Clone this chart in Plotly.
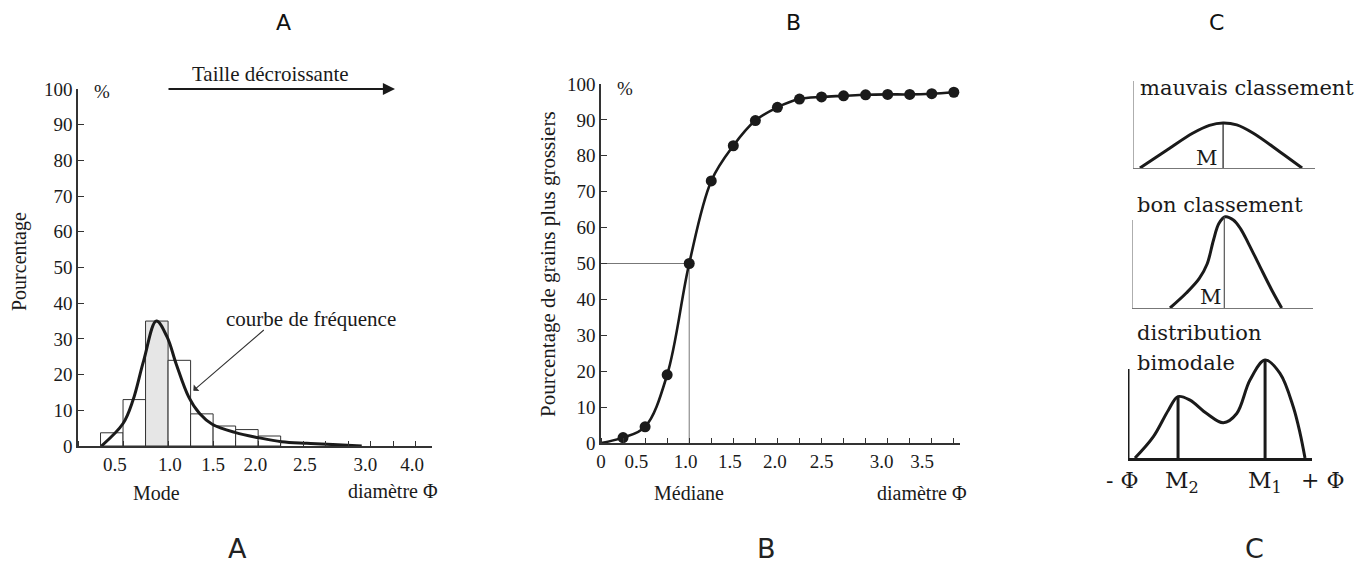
import plotly.graph_objects as go

# The page body adds an 8px margin; the figure is sized so that it fills the
# remaining viewport exactly, and positions below are in viewport pixels.
OFF = 8
W, H = 1369 - OFF, 566 - OFF
def fx(px): return (px - OFF) / W
def fy(py): return 1 - (py - OFF) / H

SERIF = "Liberation Serif"
SERIF_C = "DejaVu Serif"
SANS = "DejaVu Sans"
INK = "#1a1a1a"

# ---------------- Panel A : histogram + frequency curve ----------------
bin_centers_A = [0.375, 0.625, 0.875, 1.125, 1.375, 1.625, 1.875, 2.125]
bin_pct_A = [3.7, 13.0, 35.0, 24.0, 9.0, 5.6, 4.6, 2.8]
modal_bin_A = 2
curve_phi_A = [0.26, 0.5, 0.61, 0.73, 0.87, 0.99, 1.09, 1.23, 1.35, 1.49, 1.75, 2.0, 2.26, 2.54, 2.83, 3.15]
curve_pct_A = [0.0, 6.3, 12.8, 24.0, 35.0, 30.5, 23.0, 13.7, 9.1, 6.1, 3.75, 2.35, 1.2, 0.75, 0.4, 0.0]
mode_A = 0.87
tick_pos_A = [0.41, 1.02, 1.5, 1.97, 2.52, 3.19, 3.71]
tick_lbl_A = ["0.5", "1.0", "1.5", "2.0", "2.5", "3.0", "4.0"]
y_ticks = [0, 10, 20, 30, 40, 50, 60, 70, 80, 90, 100]

# ---------------- Panel B : cumulative curve ----------------
cum_phi_B = [0.25, 0.5, 0.75, 1.0, 1.25, 1.5, 1.75, 2.0, 2.25, 2.5, 2.75, 3.0, 3.25, 3.5, 3.75, 4.0]
cum_pct_B = [1.5, 4.5, 19.0, 50.0, 73.0, 82.8, 89.8, 93.5, 95.8, 96.4, 96.7, 97.0, 97.1, 97.1, 97.3, 97.7]
median_B = 1.0
tick_pos_B = [0.0, 0.4, 0.96, 1.46, 1.97, 2.5, 3.18, 3.64]
tick_lbl_B = ["0", "0.5", "1.0", "1.5", "2.0", "2.5", "3.0", "3.5"]

# ---------------- Panel C : sorting sketches ----------------
poor_x = [0.38, 1.87, 3.3, 4.2, 4.95, 5.7, 6.59, 8.08, 9.29]
poor_y = [0.0, 2.07, 4.02, 4.9, 5.17, 4.95, 4.02, 1.84, 0.0]
poor_mode = 4.95

good_x = [2.1, 3.0, 3.7, 4.15, 4.5, 4.8, 5.15, 5.6, 6.0, 6.43, 7.07, 7.72, 8.27]
good_y = [0.0, 1.7, 3.3, 5.0, 7.7, 9.6, 10.37, 10.0, 9.0, 7.35, 4.7, 2.05, 0.0]
good_mode = 5.1

bi_x = [0.38, 1.38, 2.2, 2.72, 3.37, 4.28, 5.18, 5.91, 6.63, 7.45, 8.26, 8.98, 9.35, 9.62]
bi_y = [0.0, 2.4, 5.4, 6.9, 6.5, 5.0, 3.96, 5.0, 8.76, 11.0, 9.51, 5.76, 2.8, 0.0]
bi_modes = [2.72, 7.45]
bi_peaks = [6.9, 11.0]

fig = go.Figure()

# Panel A traces
bar_colors = ["#e6e6e6" if i == modal_bin_A else "white" for i in range(len(bin_pct_A))]
fig.add_trace(go.Bar(x=bin_centers_A, y=bin_pct_A, width=0.25,
                     marker=dict(color=bar_colors, line=dict(color="#333", width=1)),
                     xaxis="x", yaxis="y", showlegend=False))
fig.add_trace(go.Scatter(x=curve_phi_A, y=curve_pct_A, mode="lines",
                         line=dict(color=INK, width=3, shape="spline", smoothing=1.0),
                         xaxis="x", yaxis="y", showlegend=False))

# Panel B traces
fig.add_trace(go.Scatter(x=[0, median_B, median_B], y=[50, 50, 0], mode="lines",
                         line=dict(color="#777", width=1),
                         xaxis="x2", yaxis="y2", showlegend=False))
fig.add_trace(go.Scatter(x=[0] + cum_phi_B, y=[0] + cum_pct_B, mode="lines",
                         line=dict(color=INK, width=2.6, shape="spline", smoothing=1.0),
                         xaxis="x2", yaxis="y2", showlegend=False))
fig.add_trace(go.Scatter(x=cum_phi_B, y=cum_pct_B, mode="markers",
                         marker=dict(color=INK, size=11),
                         xaxis="x2", yaxis="y2", showlegend=False))

# Panel C traces
fig.add_trace(go.Scatter(x=poor_x, y=poor_y, mode="lines",
                         line=dict(color=INK, width=3, shape="spline"),
                         xaxis="x3", yaxis="y3", showlegend=False))
fig.add_trace(go.Scatter(x=[poor_mode, poor_mode], y=[0, max(poor_y)], mode="lines",
                         line=dict(color=INK, width=1.2),
                         xaxis="x3", yaxis="y3", showlegend=False))
fig.add_trace(go.Scatter(x=good_x, y=good_y, mode="lines",
                         line=dict(color=INK, width=3, shape="spline"),
                         xaxis="x4", yaxis="y4", showlegend=False))
fig.add_trace(go.Scatter(x=[good_mode, good_mode], y=[0, max(good_y)], mode="lines",
                         line=dict(color="#555", width=1.2),
                         xaxis="x4", yaxis="y4", showlegend=False))
fig.add_trace(go.Scatter(x=bi_x, y=bi_y, mode="lines",
                         line=dict(color=INK, width=3, shape="spline"),
                         xaxis="x5", yaxis="y5", showlegend=False))
for m, p in zip(bi_modes, bi_peaks):
    fig.add_trace(go.Scatter(x=[m, m], y=[0, p], mode="lines",
                             line=dict(color=INK, width=3),
                             xaxis="x5", yaxis="y5", showlegend=False))

tickfont = dict(family=SERIF, size=19, color=INK)

def hidden_axis(**kw):
    d = dict(visible=False, showgrid=False, zeroline=False, fixedrange=True, automargin=False)
    d.update(kw)
    return d

layout = dict(
    template="none",
    width=W, height=H, autosize=False,
    margin=dict(l=0, r=0, t=0, b=0, pad=0, autoexpand=False),
    paper_bgcolor="white", plot_bgcolor="rgba(0,0,0,0)",
    barmode="overlay", showlegend=False,
    # Panel A
    xaxis=dict(domain=[fx(78), fx(432)], range=[0, 3.93], anchor="y", automargin=False,
               showline=True, linecolor="#333", linewidth=1.5, showgrid=False, zeroline=False,
               tickmode="array", tickvals=tick_pos_A, ticktext=tick_lbl_A, ticks="",
               tickfont=tickfont,
               minor=dict(tickmode="linear", tick0=0, dtick=0.25, ticks="inside", ticklen=5,
                          tickcolor="#333", showgrid=False)),
    yaxis=dict(domain=[fy(446), fy(89)], range=[0, 100], anchor="x", automargin=False,
               showline=True, linecolor="#333", linewidth=1.5, showgrid=False, zeroline=False,
               tickmode="array", tickvals=y_ticks, ticks="inside", ticklen=6, tickcolor="#333",
               tickfont=tickfont),
    # Panel B
    xaxis2=dict(domain=[fx(601), fx(960)], range=[0, 4.07], anchor="y2", automargin=False,
                showline=True, linecolor="#333", linewidth=1.5, showgrid=False, zeroline=False,
                tickmode="array", tickvals=tick_pos_B, ticktext=tick_lbl_B, ticks="",
                tickfont=tickfont,
                minor=dict(tickmode="linear", tick0=0, dtick=0.25, ticks="inside", ticklen=5,
                           tickcolor="#333", showgrid=False)),
    yaxis2=dict(domain=[fy(443), fy(84)], range=[0, 100], anchor="x2", automargin=False,
                showline=True, linecolor="#333", linewidth=1.5, showgrid=False, zeroline=False,
                tickmode="array", tickvals=y_ticks, ticks="inside", ticklen=6, tickcolor="#333",
                tickfont=tickfont),
    # Panel C sketches
    xaxis3=dict(domain=[fx(1133), fx(1315)], range=[0, 10], anchor="y3", automargin=False,
                showline=True, linecolor="#777", linewidth=1.2, showgrid=False, zeroline=False,
                showticklabels=False, ticks="", fixedrange=True),
    yaxis3=hidden_axis(domain=[fy(168), fy(168 - 12 * 8.7)], range=[0, 12], anchor="x3"),
    xaxis4=dict(domain=[fx(1132), fx(1313)], range=[0, 10], anchor="y4", automargin=False,
                showline=True, linecolor="#777", linewidth=1.2, showgrid=False, zeroline=False,
                showticklabels=False, ticks="", fixedrange=True),
    yaxis4=hidden_axis(domain=[fy(308), fy(308 - 12 * 8.8)], range=[0, 12], anchor="x4"),
    xaxis5=dict(domain=[fx(1128), fx(1312)], range=[0, 10], anchor="y5", automargin=False,
                showline=True, linecolor=INK, linewidth=3, showgrid=False, zeroline=False,
                showticklabels=False, ticks="", fixedrange=True),
    yaxis5=hidden_axis(domain=[fy(458), fy(458 - 12 * 8.9)], range=[0, 12], anchor="x5"),
)
fig.update_layout(**layout)

# left frame lines of the sketches (axis lines, drawn in each sketch's own axes)
fig.add_shape(type="line", xref="x3", yref="y3", x0=0, x1=0, y0=0, y1=10,
              line=dict(color="#777", width=1.2))
fig.add_shape(type="line", xref="x4", yref="y4", x0=0, x1=0, y0=0, y1=10,
              line=dict(color="#777", width=1.2))
fig.add_shape(type="line", xref="x5", yref="y5", x0=0, x1=0, y0=0, y1=10,
              line=dict(color=INK, width=3))

def ann(text, px, py, size=21, family=SERIF, angle=0, xanchor="center", color=INK):
    fig.add_annotation(text=text, x=fx(px), y=fy(py), xref="paper", yref="paper",
                       showarrow=False, xanchor=xanchor, yanchor="middle", textangle=angle,
                       font=dict(family=family, size=size, color=color))

# Header / footer letters
for lab, xt, xb in [("A", 283, 237), ("B", 793, 766), ("C", 1216, 1254)]:
    ann(lab, xt, 23, size=22, family=SANS, color="#111")
    ann(lab, xb, 548, size=27, family=SANS, color="#222")

# Panel A texts
ann("Taille décroissante", 270, 74)
fig.add_annotation(x=fx(395), y=fy(89), ax=-228, ay=0, xref="paper", yref="paper",
                   text="", showarrow=True,
                   arrowhead=2, arrowsize=1.1, arrowwidth=2.2, arrowcolor=INK)
ann("%", 102, 92, size=19)
ann("Pourcentage", 20, 262, size=20, angle=-90)
ann("courbe de fréquence", 311, 319)
fig.add_annotation(x=1.28, y=15.5, xref="x", yref="y", ax=72, ay=-62, text="",
                   showarrow=True, arrowhead=1, arrowsize=1.3, arrowwidth=1.1, arrowcolor="#333")
fig.add_annotation(text="Mode", x=mode_A, y=fy(493), xref="x", yref="paper", showarrow=False,
                   yanchor="middle", font=dict(family=SERIF, size=20, color=INK))
ann("diamètre Φ", 393, 491, size=20)

# Panel B texts
ann("%", 625, 88, size=19)
ann("Pourcentage de grains plus grossiers", 548, 264, angle=-90)
fig.add_annotation(text="Médiane", x=median_B, y=fy(493), xref="x2", yref="paper", showarrow=False,
                   yanchor="middle", font=dict(family=SERIF, size=20, color=INK))
ann("diamètre Φ", 922, 493, size=20)

# Panel C texts
ann("mauvais classement", 1138, 88, size=21, family=SERIF_C, xanchor="left")
ann("M", 1207, 158, size=21, family=SERIF_C)
ann("bon classement", 1135, 205, size=21, family=SERIF_C, xanchor="left")
ann("M", 1211, 297, size=21, family=SERIF_C)
ann("distribution", 1135, 333, size=21, family=SERIF_C, xanchor="left")
ann("bimodale", 1135, 363, size=21, family=SERIF_C, xanchor="left")
ann("- Φ", 1122, 480, size=22, family=SERIF_C)
ann("M<sub>2</sub>", 1182, 482, size=23, family=SERIF_C)
ann("M<sub>1</sub>", 1265, 482, size=23, family=SERIF_C)
ann("+ Φ", 1322, 480, size=22, family=SERIF_C)

fig.write_html("out.html")
